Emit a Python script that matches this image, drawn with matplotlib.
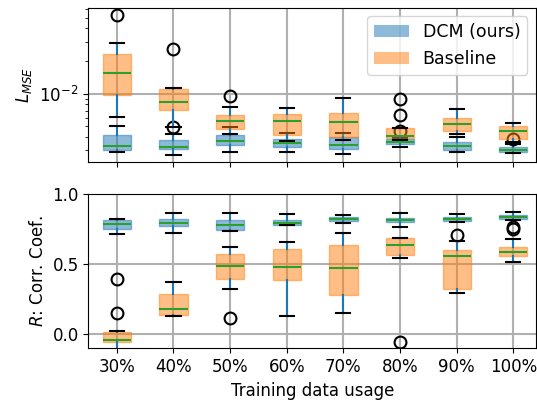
import matplotlib
matplotlib.use("Agg")
import matplotlib.pyplot as plt
from matplotlib.patches import Patch

categories = ["30%", "40%", "50%", "60%", "70%", "80%", "90%", "100%"]

# L_MSE stats: whislo, q1, median, q3, whishi
dcm_mse_whislo = [0.00292, 0.00273, 0.00289, 0.00292, 0.00280, 0.00325, 0.00289, 0.00284]
dcm_mse_q1     = [0.00301, 0.00308, 0.00339, 0.00325, 0.00312, 0.00342, 0.00301, 0.00289]
dcm_mse_med    = [0.00332, 0.00325, 0.00369, 0.00350, 0.00339, 0.00357, 0.00330, 0.00305]
dcm_mse_q3     = [0.00414, 0.00375, 0.00414, 0.00383, 0.00397, 0.00380, 0.00357, 0.00323]
dcm_mse_whishi = [0.00507, 0.00423, 0.00494, 0.00432, 0.00432, 0.00392, 0.00397, 0.00342]
dcm_mse_fliers = [[], [0.00497], [], [], [], [0.00456], [], [0.00380]]

base_mse_whislo = [0.00614, 0.00497, 0.00423, 0.00369, 0.00375, 0.00375, 0.00423, 0.00361]
base_mse_q1     = [0.00979, 0.00708, 0.00476, 0.00417, 0.00402, 0.00394, 0.00456, 0.00385]
base_mse_med    = [0.0156, 0.00839, 0.00564, 0.00557, 0.00552, 0.00411, 0.00526, 0.00453]
base_mse_q3     = [0.0232, 0.01098, 0.00632, 0.00650, 0.00660, 0.00482, 0.00601, 0.00504]
base_mse_whishi = [0.0291, 0.01121, 0.00754, 0.00738, 0.00907, 0.00488, 0.00719, 0.00537]
base_mse_fliers = [[0.0530], [0.02564], [0.00959], [], [], [0.00900, 0.00637], [], []]

# R stats
dcm_r_whislo = [0.717, 0.724, 0.738, 0.776, 0.793, 0.767, 0.800, 0.815]
dcm_r_q1     = [0.750, 0.774, 0.743, 0.781, 0.805, 0.798, 0.807, 0.819]
dcm_r_med    = [0.784, 0.796, 0.776, 0.791, 0.821, 0.815, 0.822, 0.834]
dcm_r_q3     = [0.817, 0.824, 0.812, 0.817, 0.838, 0.831, 0.836, 0.848]
dcm_r_whishi = [0.824, 0.864, 0.864, 0.855, 0.853, 0.862, 0.855, 0.871]
dcm_r_fliers = [[], [], [], [], [], [], [0.710], [0.768, 0.750]]

base_r_whislo = [-0.15, 0.131, 0.324, 0.131, 0.155, 0.543, 0.293, 0.519]
base_r_q1     = [-0.057, 0.136, 0.396, 0.386, 0.281, 0.564, 0.324, 0.555]
base_r_med    = [-0.043, 0.184, 0.486, 0.479, 0.476, 0.634, 0.557, 0.584]
base_r_q3     = [0.020, 0.286, 0.574, 0.610, 0.638, 0.684, 0.598, 0.622]
base_r_whishi = [0.022, 0.371, 0.619, 0.655, 0.724, 0.686, 0.664, 0.681]
base_r_fliers = [[0.391, 0.153], [], [0.119], [], [], [-0.057], [], []]

positions = list(range(1, len(categories) + 1))


def make_stats(lo, q1, med, q3, hi, fl):
    return [dict(whislo=a, q1=b, med=c, q3=d, whishi=e, fliers=f)
            for a, b, c, d, e, f in zip(lo, q1, med, q3, hi, fl)]


def draw(ax, stats, color):
    ax.bxp(stats, positions=positions, widths=0.5, patch_artist=True,
           boxprops=dict(facecolor=color, edgecolor=color, alpha=0.5, linewidth=1.0),
           whiskerprops=dict(color="C0", linewidth=1.5),
           capprops=dict(color="black", linewidth=1.5),
           medianprops=dict(color="C2", linewidth=1.5),
           flierprops=dict(marker="o", markerfacecolor="none", markeredgecolor="black",
                           markersize=8.5, markeredgewidth=1.5),
           manage_ticks=False)


plt.rcParams["font.size"] = 12
fig = plt.figure(figsize=(5.37, 4.0), dpi=100)
ax1 = fig.add_axes([0.1648, 0.595, 0.8333, 0.386])
ax2 = fig.add_axes([0.1648, 0.129, 0.8333, 0.386])

for ax in (ax1, ax2):
    ax.grid(True, color="#b0b0b0", linewidth=1.5)
    ax.set_axisbelow(True)

draw(ax1, make_stats(dcm_mse_whislo, dcm_mse_q1, dcm_mse_med, dcm_mse_q3, dcm_mse_whishi, dcm_mse_fliers), "C0")
draw(ax1, make_stats(base_mse_whislo, base_mse_q1, base_mse_med, base_mse_q3, base_mse_whishi, base_mse_fliers), "C1")
draw(ax2, make_stats(dcm_r_whislo, dcm_r_q1, dcm_r_med, dcm_r_q3, dcm_r_whishi, dcm_r_fliers), "C0")
draw(ax2, make_stats(base_r_whislo, base_r_q1, base_r_med, base_r_q3, base_r_whishi, base_r_fliers), "C1")

ax1.set_yscale("log")
ax1.set_ylim(0.00235, 0.0622)
ax2.set_ylim(-0.1, 1.0)
ax2.set_yticks([0.0, 0.5, 1.0])

for ax in (ax1, ax2):
    ax.set_xlim(0.5, 8.4)
    ax.set_xticks(positions)
ax1.set_xticklabels([])
ax2.set_xticklabels(categories)

ax1.set_ylabel("$L_{MSE}$")
ax2.set_ylabel("$R$: Corr. Coef.")
ax2.set_xlabel("Training data usage")

handles = [Patch(facecolor="C0", alpha=0.5), Patch(facecolor="C1", alpha=0.5)]
ax1.legend(handles, ["DCM (ours)", "Baseline"], loc="upper right", fontsize=12.5)

fig.savefig("out.png", dpi=100)
